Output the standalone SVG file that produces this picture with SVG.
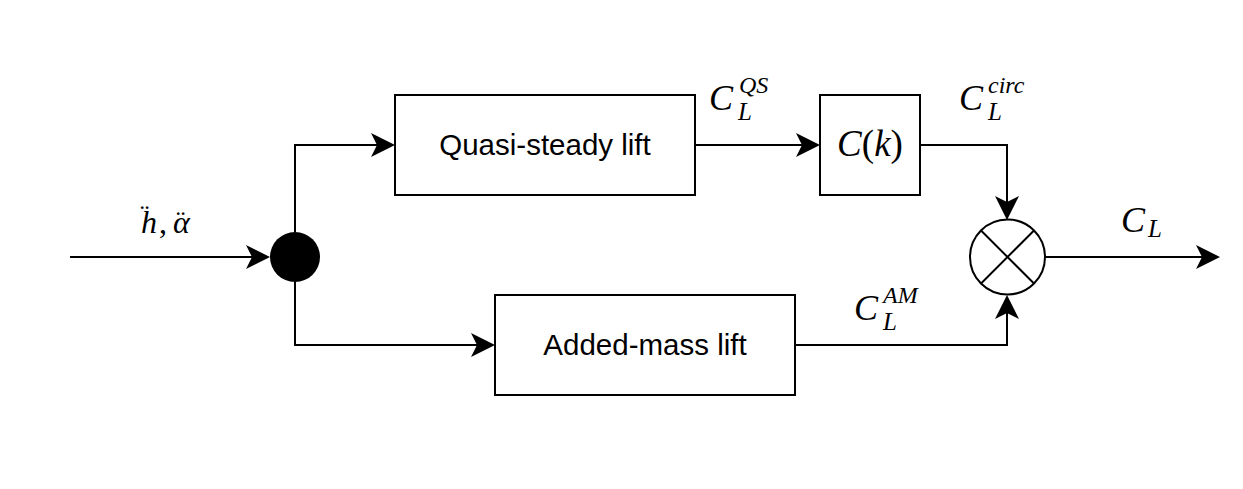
<svg xmlns="http://www.w3.org/2000/svg" width="1243" height="489" viewBox="0 0 1243 489">
<style>
.box{fill:#fff;stroke:#000;stroke-width:2}
.lbl{font-family:"Liberation Sans",Arial,sans-serif;font-size:29.5px;fill:#000;text-anchor:middle}
.m{font-family:"Liberation Serif","Times New Roman",serif;font-style:italic;fill:#000}
.up{font-style:normal}
.c{fill:none;stroke:#000;stroke-width:2}
</style>
<defs>
<marker id="arr" viewBox="0 0 24 24" markerUnits="userSpaceOnUse" markerWidth="24" markerHeight="24" refX="6" refY="12" orient="auto">
<path d="M0,0 L24,12 L0,24 L6,12 Z" fill="#000"/>
</marker>
</defs>
<rect width="1243" height="489" fill="#fff"/>
<g id="connectors">
<path class="c" d="M70,257 H252" marker-end="url(#arr)"/>
<path class="c" d="M295,232 V145 H377" marker-end="url(#arr)"/>
<path class="c" d="M295,282 V345 H477" marker-end="url(#arr)"/>
<path class="c" d="M695,145 H802" marker-end="url(#arr)"/>
<path class="c" d="M920,145 H1007 V202" marker-end="url(#arr)"/>
<path class="c" d="M795,345 H1007 V313" marker-end="url(#arr)"/>
<path class="c" d="M1045,257 H1202" marker-end="url(#arr)"/>
</g>
<g id="input-label">
<text class="m" font-size="32"><tspan x="141" y="233">h</tspan><tspan class="up" x="140" y="224" font-size="28">&#168;</tspan><tspan class="up" x="159" y="233">,</tspan><tspan x="173" y="233">&#945;</tspan><tspan class="up" x="176" y="230" font-size="28">&#168;</tspan></text>
</g>
<g id="split"><circle cx="295" cy="257" r="25" fill="#000"/></g>
<g id="quasi-steady"><rect class="box" x="395" y="95" width="300" height="100"/><text class="lbl" x="545" y="155">Quasi-steady lift</text></g>
<g id="added-mass"><rect class="box" x="495" y="295" width="300" height="100"/><text class="lbl" x="645" y="355">Added-mass lift</text></g>
<g id="ck"><rect class="box" x="820" y="95" width="100" height="100"/><text class="m" x="870" y="156" font-size="37" text-anchor="middle">C<tspan class="up">(</tspan>k<tspan class="up">)</tspan></text></g>
<g id="sum"><circle cx="1007.5" cy="257" r="37.5" fill="#fff" stroke="#000" stroke-width="2"/><path d="M981,230.5 L1034,283.5 M1034,230.5 L981,283.5" stroke="#000" stroke-width="2"/></g>
<g id="label-qs"><text class="m" x="709" y="110" font-size="36">C</text><text class="m" x="739" y="93" font-size="24">QS</text><text class="m" x="738" y="120" font-size="25">L</text></g>
<g id="label-circ"><text class="m" x="959" y="110" font-size="36">C</text><text class="m" x="988" y="93" font-size="24">circ</text><text class="m" x="988" y="120" font-size="25">L</text></g>
<g id="label-am"><text class="m" x="854" y="320" font-size="36">C</text><text class="m" x="883" y="303" font-size="24">AM</text><text class="m" x="883" y="330" font-size="25">L</text></g>
<g id="label-cl"><text class="m" x="1121" y="232" font-size="36">C</text><text class="m" x="1148" y="237" font-size="25">L</text></g>
</svg>
